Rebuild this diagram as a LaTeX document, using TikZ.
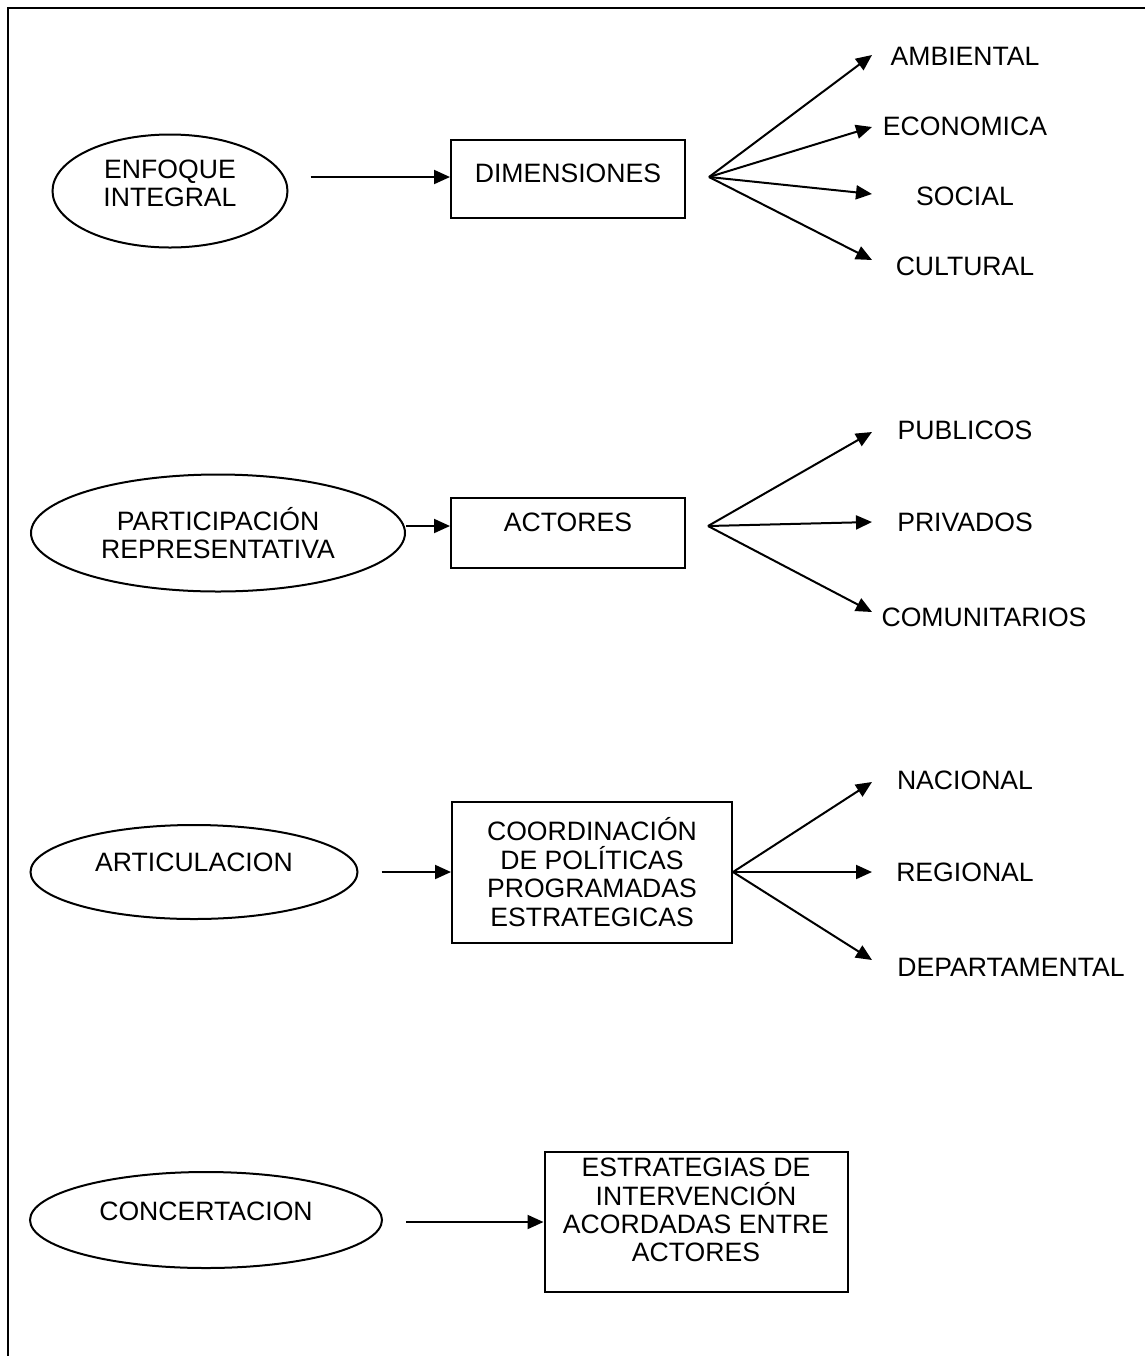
\documentclass[tikz,border=0pt]{standalone}
\usepackage{fontspec}
\setmainfont{Liberation Sans}
\usetikzlibrary{shapes,arrows.meta,positioning,calc}

\begin{document}
\begin{tikzpicture}[x=0.5pt,y=-0.5pt,
    every node/.style={font=\fontsize{13.3}{14.2}\selectfont, align=center},
    elipse/.style={ellipse, draw, line width=1pt, inner sep=0pt},
    caja/.style={rectangle, draw, line width=1pt, inner sep=0pt},
    flecha/.style={-{Triangle[length=8pt,width=7pt]}, line width=1pt},
    etiqueta/.style={inner sep=0pt}]
    \useasboundingbox (0,0) rectangle (1145,1356);
    % marco
    \draw[line width=1.1pt] (8,1356) -- (8,8) -- (1145,8);

    % Enfoque integral
    \node[elipse, minimum width=117.5pt, minimum height=56.5pt, text depth=8pt] (enfoque) at (170,191) {ENFOQUE\\INTEGRAL};
    \node[caja, minimum width=117pt, minimum height=39pt, text depth=6pt] (dimensiones) at (568,179) {DIMENSIONES};
    \draw[flecha] ([xshift=11pt]enfoque.east |- dimensiones.mid west) -- (dimensiones.mid west);
    \coordinate (fan1) at ([xshift=11.5pt]dimensiones.mid east);
    \node[etiqueta] (ambiental) at (965,56) {AMBIENTAL};
    \node[etiqueta] (economica) at (965,126) {ECONOMICA};
    \node[etiqueta] (social) at (965,196) {SOCIAL};
    \node[etiqueta] (cultural) at (965,266) {CULTURAL};
    \coordinate (pambiental) at (872,55);
    \coordinate (peconomica) at (872,127);
    \coordinate (psocial) at (872,194);
    \coordinate (pcultural) at (872,260);
    \draw[flecha] (fan1) -- (pambiental);
    \draw[flecha] (fan1) -- (peconomica);
    \draw[flecha] (fan1) -- (psocial);
    \draw[flecha] (fan1) -- (pcultural);

    % Participacion representativa
    \node[elipse, minimum width=187pt, minimum height=58.5pt] (participacion) at (218,533) {PARTICIPACIÓN\\REPRESENTATIVA};
    \node[caja, minimum width=117pt, minimum height=35pt, text depth=11pt] (actores) at (568,533) {ACTORES};
    \draw[flecha] (participacion.east |- actores.mid west) -- (actores.mid west);
    \coordinate (fan2) at ([xshift=11pt]actores.mid east);
    \node[etiqueta] (publicos) at (965,430) {PUBLICOS};
    \node[etiqueta] (privados) at (965,522) {PRIVADOS};
    \node[etiqueta] (comunitarios) at (984,617) {COMUNITARIOS};
    \coordinate (ppublicos) at (872,432);
    \coordinate (pprivados) at (872,522);
    \coordinate (pcomunitarios) at (872,612);
    \draw[flecha] (fan2) -- (ppublicos);
    \draw[flecha] (fan2) -- (pprivados);
    \draw[flecha] (fan2) -- (pcomunitarios);

    % Articulacion
    \node[elipse, minimum width=163.5pt, minimum height=47pt, text depth=10pt] (articulacion) at (194,872) {ARTICULACION};
    \node[caja, minimum width=140pt, minimum height=70.5pt] (coordinacion) at (592,872) {COORDINACIÓN\\DE POLÍTICAS\\PROGRAMADAS\\ESTRATEGICAS};
    \draw[flecha] ([xshift=11.5pt]articulacion.east) -- (coordinacion.west);
    \coordinate (fan3) at (coordinacion.east);
    \node[etiqueta] (nacional) at (965,780) {NACIONAL};
    \node[etiqueta] (regional) at (965,872) {REGIONAL};
    \node[etiqueta] (departamental) at (1011,967) {DEPARTAMENTAL};
    \coordinate (pnacional) at (872,782);
    \coordinate (pregional) at (872,872);
    \coordinate (pdepartamental) at (872,960);
    \draw[flecha] (fan3) -- (pnacional);
    \draw[flecha] (fan3) -- (pregional);
    \draw[flecha] (fan3) -- (pdepartamental);

    % Concertacion
    \node[elipse, minimum width=176pt, minimum height=48pt, text depth=9pt] (concertacion) at (206,1220) {CONCERTACION};
    \node[caja, minimum width=151.5pt, minimum height=70pt, text depth=12pt] (estrategias) at (696,1222) {ESTRATEGIAS DE\\INTERVENCIÓN\\ACORDADAS ENTRE\\ACTORES};
    \draw[flecha] ([xshift=11.5pt]concertacion.east |- estrategias.west) -- (estrategias.west);
\end{tikzpicture}
\end{document}
